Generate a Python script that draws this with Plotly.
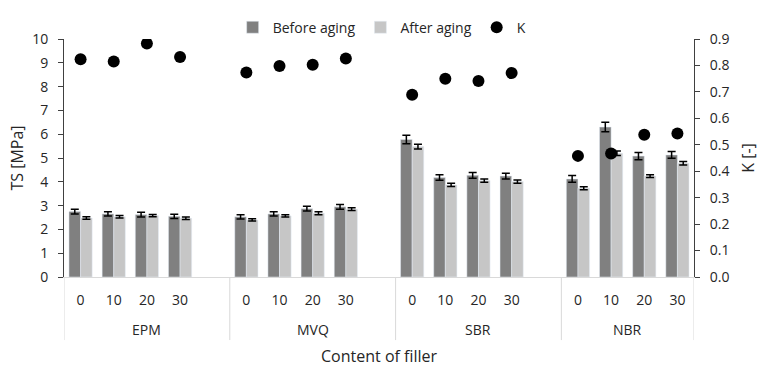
import plotly.graph_objects as go

groups = ["EPM", "MVQ", "SBR", "NBR"]
fillers = ["0", "10", "20", "30"]

before = {
    "EPM": [2.75, 2.65, 2.62, 2.55],
    "MVQ": [2.53, 2.65, 2.87, 2.95],
    "SBR": [5.78, 4.18, 4.27, 4.24],
    "NBR": [4.12, 6.30, 5.08, 5.13],
}
after = {
    "EPM": [2.48, 2.53, 2.58, 2.47],
    "MVQ": [2.40, 2.57, 2.68, 2.85],
    "SBR": [5.48, 3.87, 4.05, 4.01],
    "NBR": [3.73, 5.20, 4.24, 4.78],
}
before_err = {
    "EPM": [0.10, 0.09, 0.10, 0.09],
    "MVQ": [0.09, 0.09, 0.10, 0.10],
    "SBR": [0.18, 0.12, 0.12, 0.12],
    "NBR": [0.14, 0.20, 0.15, 0.14],
}
after_err = {
    "EPM": [0.05, 0.05, 0.05, 0.05],
    "MVQ": [0.05, 0.05, 0.06, 0.06],
    "SBR": [0.10, 0.07, 0.07, 0.07],
    "NBR": [0.06, 0.09, 0.06, 0.07],
}
k_values = {
    "EPM": [0.823, 0.815, 0.883, 0.832],
    "MVQ": [0.773, 0.798, 0.803, 0.826],
    "SBR": [0.689, 0.750, 0.741, 0.771],
    "NBR": [0.458, 0.467, 0.538, 0.543],
}

# category slots: 4 fillers per group, plus one empty slot between groups
xpos, ticktext, yb, ya, eb, ea, yk = [], [], [], [], [], [], []
group_bounds = []  # (start, end) slot edges per group
slot = 0
for gi, g in enumerate(groups):
    start = slot
    for fi, f in enumerate(fillers):
        xpos.append(slot); ticktext.append(f)
        yb.append(before[g][fi]); ya.append(after[g][fi])
        eb.append(before_err[g][fi]); ea.append(after_err[g][fi])
        yk.append(k_values[g][fi])
        slot += 1
    if gi < len(groups) - 1:
        slot += 1  # blank slot
    group_bounds.append((start - 0.5, slot - 0.5))

FONT = "Open Sans, Lato, sans-serif"
TXT = "#262626"
GRID = "#d9d9d9"

fig = go.Figure()
fig.add_trace(go.Bar(
    x=xpos, y=yb, name="Before aging", marker_color="#808080",
    error_y=dict(type="data", array=eb, color="black", thickness=1.5, width=4),
))
fig.add_trace(go.Bar(
    x=xpos, y=ya, name="After aging", marker_color="#c6c6c6",
    error_y=dict(type="data", array=ea, color="black", thickness=1.5, width=4),
))
fig.add_trace(go.Scatter(
    x=xpos, y=yk, name="K", mode="markers", yaxis="y2",
    marker=dict(color="black", size=12),
))

shapes = []
annotations = []
edges = sorted(set([b for gb in group_bounds for b in gb]))
for e in edges:
    shapes.append(dict(type="line", xref="x", yref="paper", x0=e, x1=e,
                       y0=0, y1=-0.265, line=dict(color=GRID, width=1)))
for g, (a, b) in zip(groups, group_bounds):
    annotations.append(dict(text=g, xref="x", yref="paper", x=(a + b) / 2, y=-0.221,
                            xanchor="center", yanchor="middle", showarrow=False,
                            font=dict(size=14, color=TXT)))
annotations.append(dict(text="Content of filler", xref="paper", yref="paper", x=0.5, y=-0.333,
                        xanchor="center", yanchor="middle", showarrow=False,
                        font=dict(size=16, color=TXT)))

fig.update_layout(
    width=759, height=370,
    margin=dict(l=64, r=65, t=28, b=93),
    paper_bgcolor="white", plot_bgcolor="white",
    font=dict(family=FONT, size=14, color=TXT),
    barmode="group", bargap=0.3, bargroupgap=0,
    showlegend=True,
    legend=dict(orientation="h", x=0.505, xanchor="center", y=1.115, yanchor="top",
                font=dict(size=14, color=TXT), traceorder="normal",
                itemwidth=30, bgcolor="rgba(0,0,0,0)"),
    shapes=shapes, annotations=annotations,
    xaxis=dict(
        range=[group_bounds[0][0], group_bounds[-1][1]],
        tickmode="array", tickvals=xpos, ticktext=ticktext,
        showline=True, linecolor=GRID, linewidth=1, automargin=False,
        showgrid=False, zeroline=False, ticks="", ticklabelstandoff=10,
        tickfont=dict(size=14, color=TXT),
    ),
    yaxis=dict(
        range=[0, 10], dtick=1, showgrid=False, zeroline=False, automargin=False,
        showline=True, linecolor="#404040", linewidth=1,
        ticks="outside", ticklen=5, tickcolor="#404040", ticklabelstandoff=7,
        tickfont=dict(size=14, color=TXT),
        title=dict(text="TS [MPa]", font=dict(size=16, color=TXT), standoff=4),
    ),
    yaxis2=dict(
        overlaying="y", side="right", range=[0, 0.9], dtick=0.1, tickformat=".1f",
        showgrid=False, zeroline=False, automargin=False,
        showline=True, linecolor="#404040", linewidth=1,
        ticks="outside", ticklen=5, tickcolor="#404040", ticklabelstandoff=7,
        tickfont=dict(size=14, color=TXT),
        title=dict(text="K [-]", font=dict(size=16, color=TXT), standoff=16),
    ),
)

fig.write_html("out.html")
